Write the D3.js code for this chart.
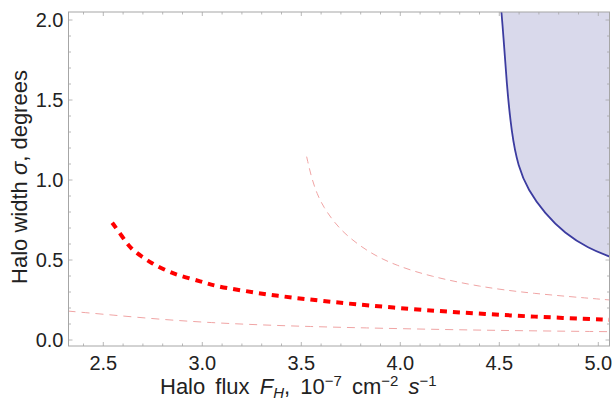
<!DOCTYPE html>
<html><head><meta charset="utf-8">
<script src="https://cdn.jsdelivr.net/npm/d3@7"></script>
<style>body{margin:0;background:#fff;} text{font-family:"Liberation Sans",Arial,sans-serif;}</style>
</head><body><svg id="c" width="613" height="402"></svg>
<script>
const xTicks = [2.5, 3.0, 3.5, 4.0, 4.5, 5.0];
const yTicks = [0.0, 0.5, 1.0, 1.5, 2.0];
const thickFlux  = [2.545,2.596,2.637,2.695,2.745,2.804,2.871,3.0,3.063,3.196,3.33,3.46,3.597,3.76,4.06,4.3,4.56,4.8,5.06];
const thickSigma = [0.733,0.646,0.573,0.52,0.48,0.442,0.406,0.364,0.3375,0.31,0.284,0.264,0.246,0.224,0.193,0.172,0.153,0.139,0.126];
const lowFlux  = [2.32,2.545,2.796,3.046,3.297,3.547,3.8,4.23,4.6,5.06];
const lowSigma = [0.181,0.156,0.128,0.108,0.094,0.084,0.076,0.065,0.058,0.052];
const upFlux  = [3.527,3.55,3.58,3.613,3.663,3.73,3.85,3.98,4.15,4.4,4.65,5.06];
const upSigma = [1.146,1.02,0.91,0.83,0.74,0.65,0.54,0.465,0.398,0.333,0.292,0.25];
const blueFlux  = [4.51,4.52,4.537,4.562,4.595,4.645,4.73,4.83,4.95,5.06];
const blueSigma = [2.06,1.917,1.604,1.29,1.083,0.9375,0.79,0.667,0.573,0.52];

const L=68.5, R=609.5, T=12, B=346;
const x = d3.scaleLinear().domain([2.5,5.0]).range([103.3,598.3]);
const y = d3.scaleLinear().domain([0,2]).range([340,20]);
const xmax=x.invert(R), ymax=y.invert(T);
const svg = d3.select('#c');
svg.append('defs').append('clipPath').attr('id','clip').append('rect')
  .attr('x',L).attr('y',T).attr('width',R-L).attr('height',B-T);
const g = svg.append('g').attr('clip-path','url(#clip)');

const zip=(a,b)=>a.map((v,i)=>[v,b[i]]);
const lineN = d3.line().x(d=>x(d[0])).y(d=>y(d[1])).curve(d3.curveBasis);

const blue = zip(blueFlux, blueSigma);
const extra = [[xmax+0.1, blueSigma[blueSigma.length-1]],[xmax+0.1, ymax+0.1],[blueFlux[0], ymax+0.1]];
g.append('path').attr('d', lineN(blue) + 'L' + extra.map(d=>x(d[0])+','+y(d[1])).join('L')+'Z')
  .attr('fill','#d9d9eb').attr('stroke','none');
g.append('path').attr('d', lineN(blue)).attr('fill','none').attr('stroke','#3c3ca0').attr('stroke-width',1.8);

g.append('path').attr('d', lineN(zip(upFlux,upSigma))).attr('fill','none')
  .attr('stroke','#f0a4a4').attr('stroke-width',1).attr('stroke-dasharray','7,5');
g.append('path').attr('d', lineN(zip(lowFlux,lowSigma))).attr('fill','none')
  .attr('stroke','#f0a4a4').attr('stroke-width',1).attr('stroke-dasharray','8,6');
g.append('path').attr('d', lineN(zip(thickFlux,thickSigma))).attr('fill','none')
  .attr('stroke','#ff0000').attr('stroke-width',4).attr('stroke-dasharray','7,6');

const fc='#a6a6a6';
svg.append('rect').attr('x',L).attr('y',T).attr('width',R-L).attr('height',B-T)
  .attr('fill','none').attr('stroke',fc).attr('stroke-width',1);
const minX = d3.range(23,51).map(v=>v/10).filter(v=>x(v)>L+1&&x(v)<R-1);
const minY = d3.range(0,21).map(v=>v/10);
const tk = svg.append('g').attr('stroke',fc).attr('stroke-width',0.8);
minX.forEach(v=>{
  const maj = xTicks.some(t=>Math.abs(t-v)<1e-6);
  const len = maj?4:2.5;
  tk.append('line').attr('x1',x(v)).attr('x2',x(v)).attr('y1',B).attr('y2',B-len);
  tk.append('line').attr('x1',x(v)).attr('x2',x(v)).attr('y1',T).attr('y2',T+len);
});
minY.forEach(v=>{
  const maj = yTicks.some(t=>Math.abs(t-v)<1e-6);
  const len = maj?4:2.5;
  tk.append('line').attr('y1',y(v)).attr('y2',y(v)).attr('x1',L).attr('x2',L+len);
  tk.append('line').attr('y1',y(v)).attr('y2',y(v)).attr('x1',R).attr('x2',R-len);
});
const fs=20, tfs=22, sfs=15;
xTicks.forEach(v=>svg.append('text').attr('x',x(v)).attr('y',B+24).attr('text-anchor','middle')
  .attr('font-size',fs).attr('fill','#222').text(v.toFixed(1)));
yTicks.forEach(v=>svg.append('text').attr('x',L-5).attr('y',y(v)+7).attr('text-anchor','end')
  .attr('font-size',fs).attr('fill','#222').text(v.toFixed(1)));

const xt = svg.append('text').attr('x',160).attr('y',394).attr('text-anchor','start')
  .attr('font-size',tfs).attr('fill','#222').attr('word-spacing',4);
xt.append('tspan').text('Halo flux ');
xt.append('tspan').attr('font-style','italic').text('F');
xt.append('tspan').attr('font-style','italic').attr('font-size',sfs).attr('dy',4).text('H');
xt.append('tspan').attr('dy',-4).text(', 10');
xt.append('tspan').attr('font-size',sfs).attr('dy',-8).text('−7');
xt.append('tspan').attr('dy',8).text(' cm');
xt.append('tspan').attr('font-size',sfs).attr('dy',-8).text('−2');
xt.append('tspan').attr('dy',8).text(' ');
xt.append('tspan').attr('font-style','italic').text('s');
xt.append('tspan').attr('font-size',sfs).attr('dy',-8).text('−1');

const yt = svg.append('text').attr('transform',`translate(27,177) rotate(-90)`)
  .attr('text-anchor','middle').attr('font-size',tfs).attr('fill','#222');
yt.append('tspan').text('Halo width ');
yt.append('tspan').attr('font-style','italic').text('σ');
yt.append('tspan').text(', degrees');
</script></body></html>
